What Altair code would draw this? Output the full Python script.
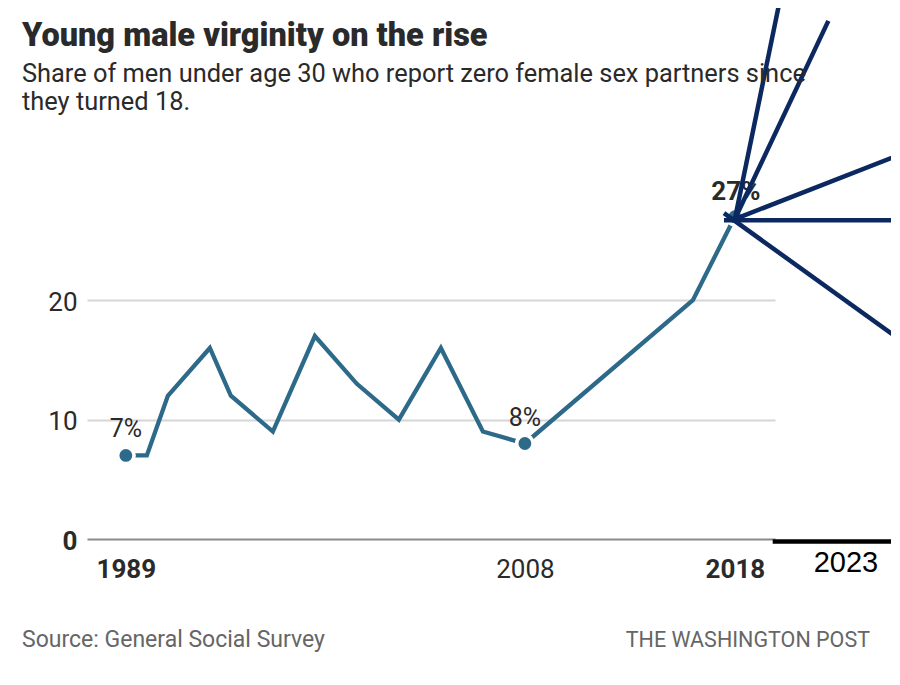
import altair as alt
import pandas as pd

# ---- data ----
years = [1989, 1990, 1991, 1993, 1994, 1996, 1998, 2000, 2002, 2004, 2006, 2008, 2016, 2018]
values = [7, 7, 12, 16, 12, 9, 17, 13, 10, 16, 9, 8, 20, 27]

label_years = [1989, 2008, 2018]
label_values = [7, 8, 27]
label_texts = ["7%", "8%", "27%"]
label_bold = [False, False, True]

# navy fan lines drawn from the 2018 point (start/end)
fan_ids = ["A", "A", "B", "B", "C", "C", "D", "D", "E", "E"]
fan_years = [2018, 2020.15, 2018, 2022.45, 2018, 2025.86, 2017.48, 2025.86, 2017.48, 2025.86]
fan_values = [26.8, 45.2, 26.8, 43.4, 26.8, 32.2, 26.7, 26.7, 27.3, 16.7]

bar_years = [2019.8, 2025.71]
extra_tick_year = [2023]
extra_tick_text = ["2023"]

x_ticks = [1989, 2008, 2018]
y_ticks = [0, 10, 20]

title_text = "Young male virginity on the rise"
subtitle_lines = ["Share of men under age 30 who report zero female sex partners since", "they turned 18."]
source_text = "Source: General Social Survey"
credit_text = "THE WASHINGTON POST"

TEAL = "#2d6a8a"
NAVY = "#0b2860"
INK = "#2a2a2a"
FONT = "Roboto"

df = pd.DataFrame({"year": years, "value": values})
lab = pd.DataFrame({"year": label_years, "value": label_values, "text": label_texts, "bold": label_bold})
fan = pd.DataFrame({"id": fan_ids, "year": fan_years, "value": fan_values})
bar = pd.DataFrame({"year": [bar_years[0]], "year2": [bar_years[1]], "value": [0]})
t23 = pd.DataFrame({"year": extra_tick_year, "value": [0], "text": extra_tick_text})

xs = alt.Scale(domain=[1987.15, 2019.91], nice=False, zero=False)
ys = alt.Scale(domain=[0, 32], nice=False)

x_axis = alt.Axis(
    values=x_ticks, format="d", grid=False, domain=False, ticks=False, title=None,
    labelFont=FONT, labelFontSize=26, labelColor=INK, labelPadding=17,
    labelFontWeight={"condition": {"test": "datum.value == 1989 || datum.value == 2018", "value": "bold"}, "value": "normal"},
)
y_axis = alt.Axis(
    values=y_ticks, format="d", domain=False, ticks=False, title=None,
    labelFont=FONT, labelFontSize=26, labelColor=INK, labelPadding=10, labelOffset=2,
    labelFontWeight={"condition": {"test": "datum.value == 0", "value": "bold"}, "value": "normal"},
    gridColor={"condition": {"test": "datum.value == 0", "value": "#8a8a8a"}, "value": "#d6d6d6"},
    gridWidth=2,
)

line = alt.Chart(df).mark_line(color=TEAL, strokeWidth=4.3, strokeJoin="miter").encode(
    x=alt.X("year:Q", scale=xs, axis=x_axis),
    y=alt.Y("value:Q", scale=ys, axis=y_axis),
)

dots = alt.Chart(lab).mark_point(filled=True, shape="circle", size=270, fill=TEAL,
                                  stroke="white", strokeWidth=3.6, opacity=1).encode(
    x=alt.X("year:Q", scale=xs),
    y=alt.Y("value:Q", scale=ys),
)

labels_n = alt.Chart(lab).transform_filter("!datum.bold").mark_text(
    font=FONT, fontSize=25, color=INK, dy=-18, baseline="alphabetic", align="center").encode(
    x=alt.X("year:Q", scale=xs),
    y=alt.Y("value:Q", scale=ys),
    text="text:N",
)
labels_b = alt.Chart(lab).transform_filter("datum.bold").mark_text(
    font=FONT, fontSize=26, fontWeight="bold", color=INK, dy=-17, dx=1, baseline="alphabetic", align="center").encode(
    x=alt.X("year:Q", scale=xs),
    y=alt.Y("value:Q", scale=ys),
    text="text:N",
)

fanlines = alt.Chart(fan).mark_line(color=NAVY, strokeWidth=4.5, clip=False).encode(
    x=alt.X("year:Q", scale=xs),
    y=alt.Y("value:Q", scale=ys),
    detail="id:N",
)

blackbar = alt.Chart(bar).mark_rule(color="black", strokeWidth=4.5, yOffset=2.5, clip=False).encode(
    x=alt.X("year:Q", scale=xs),
    x2="year2:Q",
    y=alt.Y("value:Q", scale=ys),
)

tick23 = alt.Chart(t23).mark_text(font="Liberation Sans", fontSize=29, color="black",
                                   baseline="alphabetic", dy=32.7, dx=6, clip=False).encode(
    x=alt.X("year:Q", scale=xs),
    y=alt.Y("value:Q", scale=ys),
    text="text:N",
)

title = alt.Chart(pd.DataFrame({"t": [title_text]})).mark_text(
    font=FONT, fontSize=32.5, fontWeight=900, color=INK, align="left", baseline="alphabetic").encode(
    x=alt.value(-65), y=alt.value(-111), text="t:N")

sub1 = alt.Chart(pd.DataFrame({"t": [subtitle_lines[0]]})).mark_text(
    font=FONT, fontSize=25.4, color=INK, align="left", baseline="alphabetic").encode(
    x=alt.value(-65), y=alt.value(-75), text="t:N")

sub2 = alt.Chart(pd.DataFrame({"t": [subtitle_lines[1]]})).mark_text(
    font=FONT, fontSize=25.4, color=INK, align="left", baseline="alphabetic").encode(
    x=alt.value(-65), y=alt.value(-47), text="t:N")

src = alt.Chart(pd.DataFrame({"t": [source_text]})).mark_text(
    font=FONT, fontSize=23, color="#666666", align="left", baseline="alphabetic").encode(
    x=alt.value(-65), y=alt.value(490), text="t:N")

wapo = alt.Chart(pd.DataFrame({"t": [credit_text]})).mark_text(
    font=FONT, fontSize=21.5, color="#666666", align="right", baseline="alphabetic").encode(
    x=alt.value(783), y=alt.value(490), text="t:N")

chart = alt.layer(line, dots, labels_n, labels_b, fanlines, blackbar, tick23,
                  title, sub1, sub2, src, wapo).properties(
    width=688, height=382,
    background="white",
    autosize=alt.AutoSizeParams(type="none"),
    padding={"left": 79, "top": 149, "right": 116, "bottom": 125},
).configure_view(stroke=None)

chart.save("out.html", embed_options={"renderer": "svg", "actions": False})
